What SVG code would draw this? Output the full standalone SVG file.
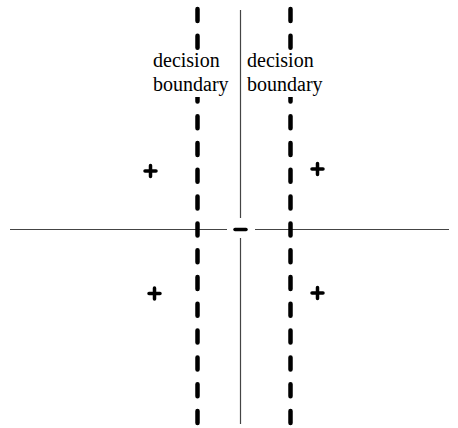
<svg xmlns="http://www.w3.org/2000/svg" width="458" height="428" viewBox="0 0 458 428">
<style>
.axis{stroke:#444;stroke-width:1.2;fill:none}
.bound{stroke:#000;stroke-width:4.5;stroke-linecap:round;stroke-dasharray:12 14.8;fill:none}
.sym{stroke:#000;stroke-width:3.5;stroke-linecap:round;fill:none}
.lbl{font-family:"Liberation Serif",serif;font-size:20px;fill:#000}
</style>
<rect width="458" height="428" fill="#fff"/>
<g id="connectors">
<path class="axis" d="M10 229.5H227M255 229.5H449M240.5 10V218M240.5 238V424"/>
<path id="boundary-left" class="bound" d="M197.5 9V428"/>
<path id="boundary-right" class="bound" d="M290.5 9V428"/>
</g>
<g id="label-left">
<rect x="150" y="52" width="84" height="45" fill="#fff"/>
<text class="lbl" x="153" y="67">decision</text>
<text class="lbl" x="153" y="91">boundary</text>
</g>
<g id="label-right">
<rect x="244" y="52" width="84" height="45" fill="#fff"/>
<text class="lbl" x="247" y="67">decision</text>
<text class="lbl" x="247" y="91">boundary</text>
</g>
<g id="plus-1"><path class="sym" d="M145 171H156M150.5 165.5V176.5"/></g>
<g id="plus-2"><path class="sym" d="M312 169H323M317.5 163.5V174.5"/></g>
<g id="plus-3"><path class="sym" d="M149 293.5H160M154.5 288V299"/></g>
<g id="plus-4"><path class="sym" d="M312 293H323M317.5 287.5V298.5"/></g>
<g id="minus"><path class="sym" d="M235 229.5H246"/></g>
</svg>
